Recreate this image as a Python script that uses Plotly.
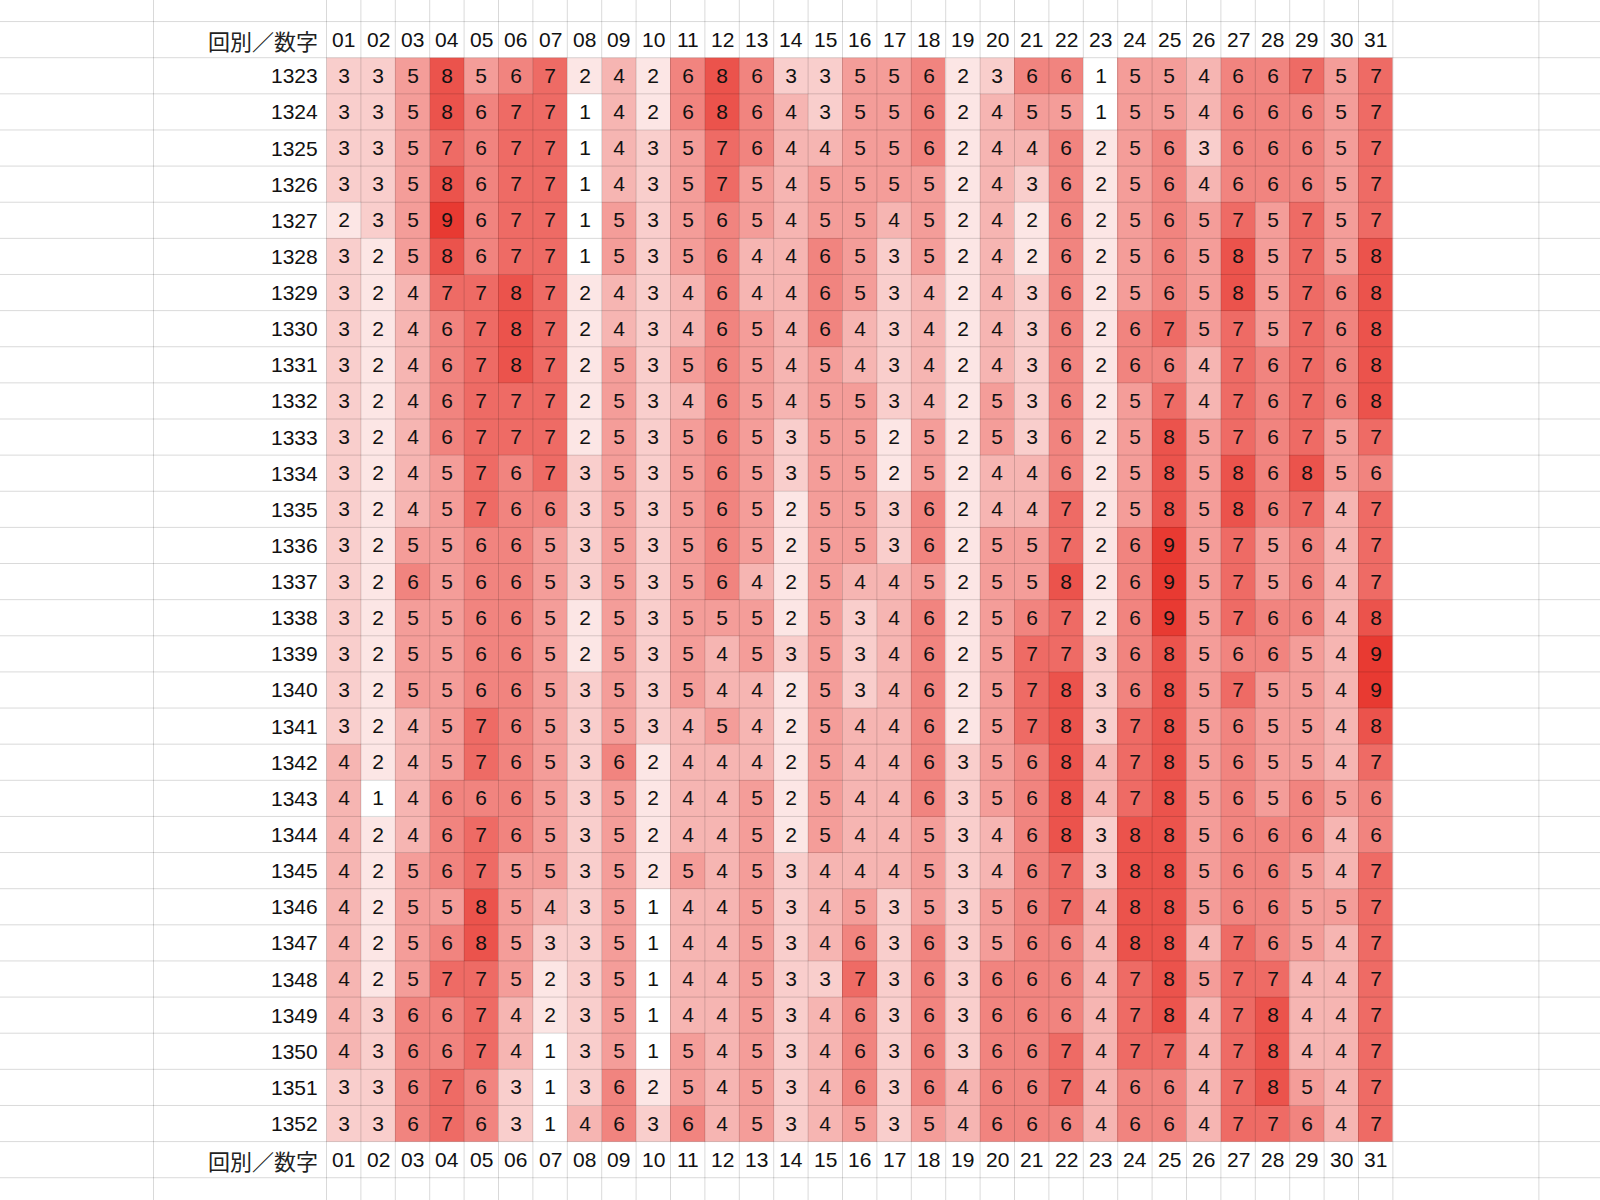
import plotly.graph_objects as go

# ---- data ----
rounds = list(range(1323, 1353))
numbers = [f"{i:02d}" for i in range(1, 32)]
corner_label = "回別／数字"

counts = [
    [3, 3, 5, 8, 5, 6, 7, 2, 4, 2, 6, 8, 6, 3, 3, 5, 5, 6, 2, 3, 6, 6, 1, 5, 5, 4, 6, 6, 7, 5, 7],
    [3, 3, 5, 8, 6, 7, 7, 1, 4, 2, 6, 8, 6, 4, 3, 5, 5, 6, 2, 4, 5, 5, 1, 5, 5, 4, 6, 6, 6, 5, 7],
    [3, 3, 5, 7, 6, 7, 7, 1, 4, 3, 5, 7, 6, 4, 4, 5, 5, 6, 2, 4, 4, 6, 2, 5, 6, 3, 6, 6, 6, 5, 7],
    [3, 3, 5, 8, 6, 7, 7, 1, 4, 3, 5, 7, 5, 4, 5, 5, 5, 5, 2, 4, 3, 6, 2, 5, 6, 4, 6, 6, 6, 5, 7],
    [2, 3, 5, 9, 6, 7, 7, 1, 5, 3, 5, 6, 5, 4, 5, 5, 4, 5, 2, 4, 2, 6, 2, 5, 6, 5, 7, 5, 7, 5, 7],
    [3, 2, 5, 8, 6, 7, 7, 1, 5, 3, 5, 6, 4, 4, 6, 5, 3, 5, 2, 4, 2, 6, 2, 5, 6, 5, 8, 5, 7, 5, 8],
    [3, 2, 4, 7, 7, 8, 7, 2, 4, 3, 4, 6, 4, 4, 6, 5, 3, 4, 2, 4, 3, 6, 2, 5, 6, 5, 8, 5, 7, 6, 8],
    [3, 2, 4, 6, 7, 8, 7, 2, 4, 3, 4, 6, 5, 4, 6, 4, 3, 4, 2, 4, 3, 6, 2, 6, 7, 5, 7, 5, 7, 6, 8],
    [3, 2, 4, 6, 7, 8, 7, 2, 5, 3, 5, 6, 5, 4, 5, 4, 3, 4, 2, 4, 3, 6, 2, 6, 6, 4, 7, 6, 7, 6, 8],
    [3, 2, 4, 6, 7, 7, 7, 2, 5, 3, 4, 6, 5, 4, 5, 5, 3, 4, 2, 5, 3, 6, 2, 5, 7, 4, 7, 6, 7, 6, 8],
    [3, 2, 4, 6, 7, 7, 7, 2, 5, 3, 5, 6, 5, 3, 5, 5, 2, 5, 2, 5, 3, 6, 2, 5, 8, 5, 7, 6, 7, 5, 7],
    [3, 2, 4, 5, 7, 6, 7, 3, 5, 3, 5, 6, 5, 3, 5, 5, 2, 5, 2, 4, 4, 6, 2, 5, 8, 5, 8, 6, 8, 5, 6],
    [3, 2, 4, 5, 7, 6, 6, 3, 5, 3, 5, 6, 5, 2, 5, 5, 3, 6, 2, 4, 4, 7, 2, 5, 8, 5, 8, 6, 7, 4, 7],
    [3, 2, 5, 5, 6, 6, 5, 3, 5, 3, 5, 6, 5, 2, 5, 5, 3, 6, 2, 5, 5, 7, 2, 6, 9, 5, 7, 5, 6, 4, 7],
    [3, 2, 6, 5, 6, 6, 5, 3, 5, 3, 5, 6, 4, 2, 5, 4, 4, 5, 2, 5, 5, 8, 2, 6, 9, 5, 7, 5, 6, 4, 7],
    [3, 2, 5, 5, 6, 6, 5, 2, 5, 3, 5, 5, 5, 2, 5, 3, 4, 6, 2, 5, 6, 7, 2, 6, 9, 5, 7, 6, 6, 4, 8],
    [3, 2, 5, 5, 6, 6, 5, 2, 5, 3, 5, 4, 5, 3, 5, 3, 4, 6, 2, 5, 7, 7, 3, 6, 8, 5, 6, 6, 5, 4, 9],
    [3, 2, 5, 5, 6, 6, 5, 3, 5, 3, 5, 4, 4, 2, 5, 3, 4, 6, 2, 5, 7, 8, 3, 6, 8, 5, 7, 5, 5, 4, 9],
    [3, 2, 4, 5, 7, 6, 5, 3, 5, 3, 4, 5, 4, 2, 5, 4, 4, 6, 2, 5, 7, 8, 3, 7, 8, 5, 6, 5, 5, 4, 8],
    [4, 2, 4, 5, 7, 6, 5, 3, 6, 2, 4, 4, 4, 2, 5, 4, 4, 6, 3, 5, 6, 8, 4, 7, 8, 5, 6, 5, 5, 4, 7],
    [4, 1, 4, 6, 6, 6, 5, 3, 5, 2, 4, 4, 5, 2, 5, 4, 4, 6, 3, 5, 6, 8, 4, 7, 8, 5, 6, 5, 6, 5, 6],
    [4, 2, 4, 6, 7, 6, 5, 3, 5, 2, 4, 4, 5, 2, 5, 4, 4, 5, 3, 4, 6, 8, 3, 8, 8, 5, 6, 6, 6, 4, 6],
    [4, 2, 5, 6, 7, 5, 5, 3, 5, 2, 5, 4, 5, 3, 4, 4, 4, 5, 3, 4, 6, 7, 3, 8, 8, 5, 6, 6, 5, 4, 7],
    [4, 2, 5, 5, 8, 5, 4, 3, 5, 1, 4, 4, 5, 3, 4, 5, 3, 5, 3, 5, 6, 7, 4, 8, 8, 5, 6, 6, 5, 5, 7],
    [4, 2, 5, 6, 8, 5, 3, 3, 5, 1, 4, 4, 5, 3, 4, 6, 3, 6, 3, 5, 6, 6, 4, 8, 8, 4, 7, 6, 5, 4, 7],
    [4, 2, 5, 7, 7, 5, 2, 3, 5, 1, 4, 4, 5, 3, 3, 7, 3, 6, 3, 6, 6, 6, 4, 7, 8, 5, 7, 7, 4, 4, 7],
    [4, 3, 6, 6, 7, 4, 2, 3, 5, 1, 4, 4, 5, 3, 4, 6, 3, 6, 3, 6, 6, 6, 4, 7, 8, 4, 7, 8, 4, 4, 7],
    [4, 3, 6, 6, 7, 4, 1, 3, 5, 1, 5, 4, 5, 3, 4, 6, 3, 6, 3, 6, 6, 7, 4, 7, 7, 4, 7, 8, 4, 4, 7],
    [3, 3, 6, 7, 6, 3, 1, 3, 6, 2, 5, 4, 5, 3, 4, 6, 3, 6, 4, 6, 6, 7, 4, 6, 6, 4, 7, 8, 5, 4, 7],
    [3, 3, 6, 7, 6, 3, 1, 4, 6, 3, 6, 4, 5, 3, 4, 5, 3, 5, 4, 6, 6, 6, 4, 6, 6, 4, 7, 7, 6, 4, 7],
]

# ---- styling ----
W, H = 1600, 1200
col_px = 34.4          # pixel width of one number column
row_px = 36.13         # pixel height of one row
grid_left_px = 326.5   # left edge of column "01"
grid_top_px = 57.7     # top edge of first data row

font_main = "Liberation Sans, Arial, Noto Sans CJK JP, sans-serif"
font_cjk = "Noto Sans CJK JP, Liberation Sans, sans-serif"

col_x = [int(n) for n in numbers]
first_round = rounds[0]

x_range = [0.5 - grid_left_px / col_px, 0.5 + (W - grid_left_px) / col_px]
y_top = first_round - 0.5 - grid_top_px / row_px
y_bot = first_round - 0.5 + (H - grid_top_px) / row_px

fig = go.Figure()
fig.add_trace(go.Heatmap(
    x=col_x,
    y=rounds,
    z=counts,
    text=[[str(v) for v in row] for row in counts],
    texttemplate="%{text}",
    textfont=dict(family=font_main, size=21, color="#111111"),
    colorscale=[[0, "#FFFFFF"], [1, "rgb(232,58,50)"]],
    zmin=1, zmax=9,
    showscale=False,
    hoverinfo="skip",
))

annotations = []
label_x = 0.5 - 7 / col_px
header_y = [first_round - 1, rounds[-1] + 1]
for r in rounds:
    annotations.append(dict(x=label_x, y=r, text=str(r), showarrow=False,
                            xanchor="right", yanchor="middle",
                            font=dict(family=font_main, size=21, color="#111111")))
for hy in header_y:
    annotations.append(dict(x=label_x, y=hy, text=corner_label, showarrow=False,
                            xanchor="right", yanchor="middle",
                            font=dict(family=font_cjk, size=22, color="#222222")))
    for cx, lab in zip(col_x, numbers):
        annotations.append(dict(x=cx, y=hy, text=lab, showarrow=False,
                                xanchor="center", yanchor="middle",
                                font=dict(family=font_main, size=21, color="#111111")))

# spreadsheet gridlines
grid_color = "rgba(0,0,0,0.15)"
shapes = []
v_lines = [0.5 - 173 / col_px] + [c + 0.5 for c in range(0, 32)] + [31.5 + 146 / col_px]
for vx in v_lines:
    shapes.append(dict(type="line", xref="x", yref="paper", x0=vx, x1=vx, y0=0, y1=1,
                       line=dict(color=grid_color, width=1)))
for k in range(-3, 34):
    hy = first_round - 0.5 + k
    if y_top < hy < y_bot:
        shapes.append(dict(type="line", xref="paper", yref="y", x0=0, x1=1, y0=hy, y1=hy,
                           line=dict(color=grid_color, width=1)))

fig.update_layout(
    width=W, height=H,
    margin=dict(l=0, r=0, t=0, b=0),
    paper_bgcolor="white", plot_bgcolor="white",
    xaxis=dict(range=x_range, visible=False, fixedrange=True),
    yaxis=dict(range=[y_bot, y_top], visible=False, fixedrange=True),
    annotations=annotations,
    shapes=shapes,
    showlegend=False,
)

fig.write_html(
    "out.html",
    config={"displayModeBar": False},
    post_script="document.body.style.margin='0';document.body.style.overflow='hidden';",
)
